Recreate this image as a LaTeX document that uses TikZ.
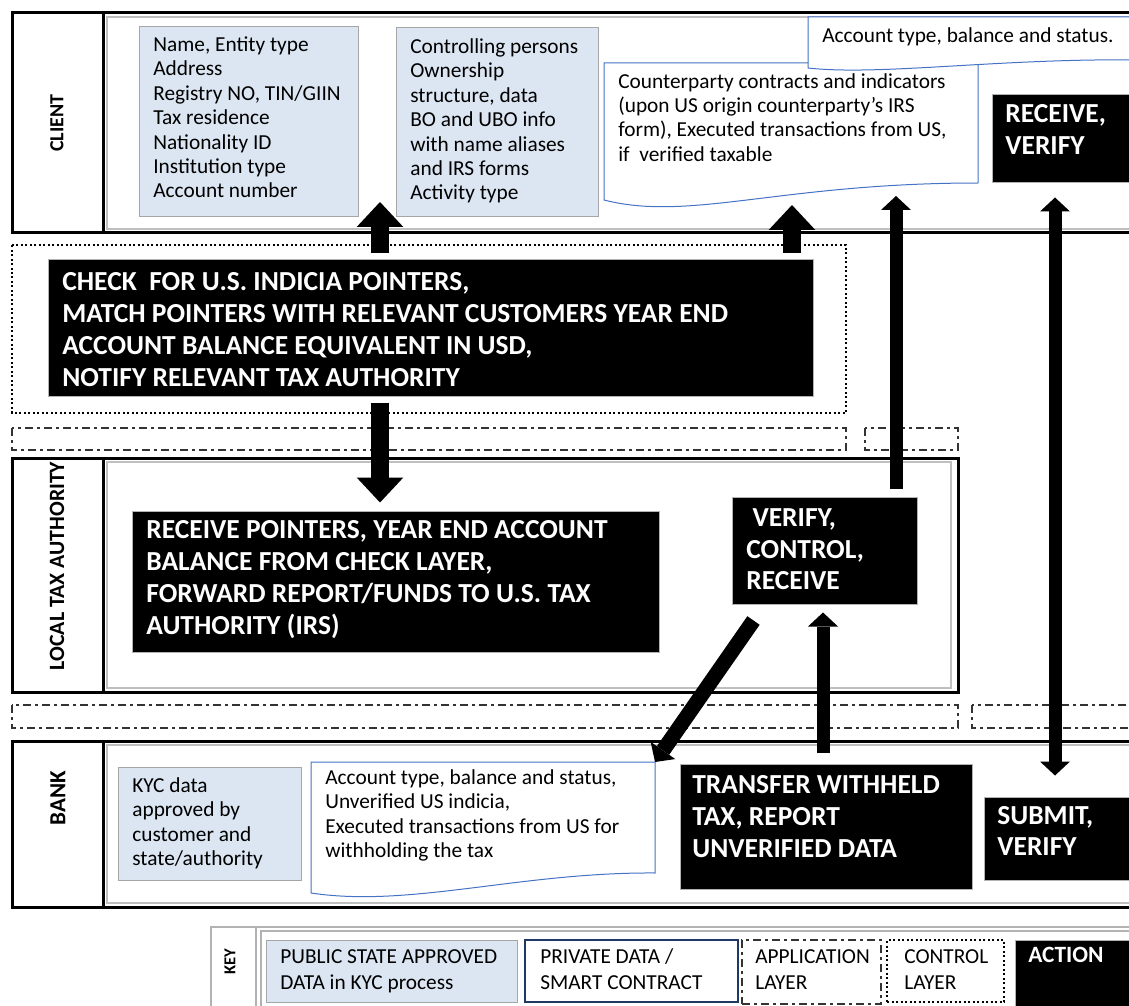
\documentclass[tikz,border=0pt]{standalone}
\usepackage{fontspec}
\setmainfont{Carlito}
\usetikzlibrary{arrows.meta,fit}
\definecolor{kycblue}{RGB}{220,230,242}
\definecolor{docblue}{RGB}{68,114,196}
\definecolor{navyline}{RGB}{31,56,100}
\tikzset{
  tipF/.tip={Triangle[width=28pt,length=15pt,line width=0pt]},
  tipS/.tip={Triangle[width=18pt,length=8.4pt,line width=0pt]},
  lane/.style={draw=black,line width=1.8pt},
  panel/.style={draw=black!25,line width=0.8pt},
  keyline/.style={draw=black!30,line width=0.9pt},
  kyc/.style={draw=black!35,fill=kycblue,line width=0.6pt,inner sep=0pt},
  act/.style={draw=black!30,fill=black,line width=0.6pt,inner sep=0pt},
  doc/.style={draw=docblue,fill=white,line width=0.6pt},
  ctrl/.style={draw=black,line width=0.8pt,dash pattern=on 1.2pt off 1.5pt},
  appl/.style={draw=black!80,line width=0.8pt,dash pattern=on 4.8pt off 2.4pt on 1.8pt off 2.4pt},
  txt/.style={font=\fontsize{12.8}{14.7}\selectfont,align=left,inner sep=0pt,anchor=base west},
  keytxt/.style={txt,font=\fontsize{12.8}{15.6}\selectfont},
  acttxt/.style={text=white,font=\fontsize{16.5}{19.2}\selectfont\bfseries,align=left,inner sep=0pt,anchor=base west},
  lanelbl/.style={rotate=90,font=\fontsize{12}{14}\selectfont\bfseries,inner sep=0pt},
  fat/.style={line width=10.8pt,-tipF},
  slim/.style={line width=7.8pt,-tipS}
}
\begin{document}
\begin{tikzpicture}[x=0.6pt,y=-0.6pt]
\useasboundingbox (0,0) rectangle (1129,1006);
% client
\draw[lane] (12,13) rectangle (1140,233);
\draw[lane] (103,13) -- (103,233);
\draw[panel] (107,17) rectangle (1135,229);
\node[lanelbl] (lclient) at (57,123) {CLIENT};
\node[kyc,fit={(139,27)(358,217)}] (cid) {};
\node[txt] (cidt) at (153,198) {Name, Entity type\\Address\\Registry NO, TIN/GIIN\\Tax residence\\Nationality ID\\Institution type\\Account number};
\node[kyc,fit={(396,28)(598,217)}] (cown) {};
\node[txt] (cownt) at (410,200) {Controlling persons\\Ownership\\structure, data\\BO and UBO info\\with name aliases\\and IRS forms\\Activity type};
\draw[doc] (604,63) -- (978,63) -- (978,183) .. controls (780,183) and (690,222) .. (604,200) -- cycle;
\node[txt] (cctr) at (618,161.5) {Counterparty contracts and indicators\\(upon US origin counterparty's IRS\\form), Executed transactions from US,\\if\ \ verified taxable};
\draw[doc] (808,17) -- (1140,17) -- (1140,60) .. controls (1000,58) and (880,76) .. (808,68) -- cycle;
\node[txt] (cacc) at (822,43) {Account type, balance and status.};
\node[act,fit={(992,95)(1140,183)}] (rcv) {};
\node[acttxt] (rcvt) at (1005,154.5) {RECEIVE,\\VERIFY};
% check layer
\draw[ctrl] (12,245) rectangle (846,413);
\node[act,fit={(48,259)(813,396)}] (chk) {};
\node[acttxt] (chkt) at (62,386) {CHECK\ \ FOR U.S. INDICIA POINTERS,\\MATCH POINTERS WITH RELEVANT CUSTOMERS YEAR END\\ACCOUNT BALANCE EQUIVALENT IN USD,\\NOTIFY RELEVANT TAX AUTHORITY};
% application layers
\draw[appl] (12,428) rectangle (846,450);
\draw[appl] (865,428) rectangle (958,450);
\draw[appl] (12,705) rectangle (958,728);
\draw[appl] (972,705) rectangle (1140,728);
% local tax authority
\draw[lane] (12,458) rectangle (958,692);
\draw[lane] (103,458) -- (103,692);
\draw[panel] (107,462) rectangle (951,688);
\node[lanelbl,font=\fontsize{13.1}{15}\selectfont\bfseries] (llta) at (57,566) {LOCAL TAX AUTHORITY};
\node[act,fit={(132,511)(659,652)}] (fwd) {};
\node[acttxt] (fwdt) at (146,634.5) {RECEIVE POINTERS, YEAR END ACCOUNT\\BALANCE FROM CHECK LAYER,\\FORWARD REPORT/FUNDS TO U.S. TAX\\AUTHORITY (IRS)};
\node[act,fit={(732,497)(917,604)}] (vrf) {};
\node[acttxt,font=\fontsize{16.5}{18.9}\selectfont\bfseries] (vrft) at (746,589.5) {\ VERIFY,\\CONTROL,\\RECEIVE};
% bank
\draw[lane] (12,741) rectangle (1140,907);
\draw[lane] (103,741) -- (103,907);
\draw[panel] (107,745) rectangle (1135,903);
\node[lanelbl,font=\fontsize{13.8}{15}\selectfont\bfseries] (lbank) at (58,798) {BANK};
\node[kyc,fit={(118,767)(301,880)}] (bkyc) {};
\node[txt] (bkyct) at (132,865.5) {KYC data\\approved by\\customer and\\state/authority};
\draw[doc] (311,762) -- (655,762) -- (655,873) .. controls (520,872) and (410,908) .. (311,893) -- cycle;
\coordinate (bdoc) at (655,762);
\node[txt] (bdoct) at (325,857.5) {Account type, balance and status,\\Unverified US indicia,\\Executed transactions from US for\\withholding the tax};
\node[act,fit={(680,764)(972,889)}] (xfer) {};
\node[acttxt] (xfert) at (692,857.5) {TRANSFER WITHHELD\\TAX, REPORT\\UNVERIFIED DATA};
\node[act,fit={(984,797)(1140,880)}] (sub) {};
\node[acttxt,font=\fontsize{16.5}{18.6}\selectfont\bfseries] (subt) at (997,855.5) {SUBMIT,\\VERIFY};
% key
\draw[keyline] (211,927) rectangle (1140,1012);
\draw[keyline] (256,927) -- (256,1012);
\draw[keyline] (261,931) rectangle (1135,1012);
\node[lanelbl,font=\fontsize{10}{12}\selectfont\bfseries] (lkey) at (230,962) {KEY};
\node[kyc,fit={(266,940)(517,1002)}] (kpub) {};
\node[keytxt] (kpubt) at (280,989) {PUBLIC STATE APPROVED\\DATA in KYC process};
\node[draw=navyline,line width=1pt,inner sep=0pt,fit={(525,940)(738,1002)}] (kpriv) {};
\node[keytxt] (kprivt) at (540,989) {PRIVATE DATA /\\SMART CONTRACT};
\node[appl,inner sep=0pt,fit={(742,940)(881,1004)}] (kapp) {};
\node[keytxt] (kappt) at (755,989) {APPLICATION\\LAYER};
\node[ctrl,inner sep=0pt,fit={(887,940)(1004,1002)}] (kctl) {};
\node[keytxt] (kctlt) at (904,989) {CONTROL\\LAYER};
\node[act,fit={(1015,940)(1140,1006)}] (kact) {};
\node[acttxt,font=\fontsize{14}{16}\selectfont\bfseries] (kactt) at (1028,962) {ACTION};
% arrows
\coordinate (tA) at (380,202);
\coordinate (tB) at (792,205);
\coordinate (xC) at (380,500);
\coordinate (tD) at (896,196);
\coordinate (xE) at (1055,500);
\coordinate (xG) at (823,700);
\draw[fat,shorten <=3.6pt] (chk.north -| tA) -- (tA);
\draw[fat,shorten <=3.6pt] (chk.north -| tB) -- (tB);
\draw[fat,shorten <=3.6pt,shorten >=4.8pt] (chk.south -| xC) -- (fwd.north -| xC);
\draw[slim,shorten <=4.8pt] (vrf.north -| tD) -- (tD);
\draw[slim,tipS-tipS,shorten <=8.4pt,shorten >=12.6pt] (rcv.south -| xE) -- (sub.north -| xE);
\draw[slim,line width=9pt] ([shift={(22,16)}]vrf.south west) -- (bdoc);
\draw[slim,shorten <=6.6pt,shorten >=4.8pt] (xfer.north -| xG) -- (vrf.south -| xG);
\end{tikzpicture}
\end{document}
